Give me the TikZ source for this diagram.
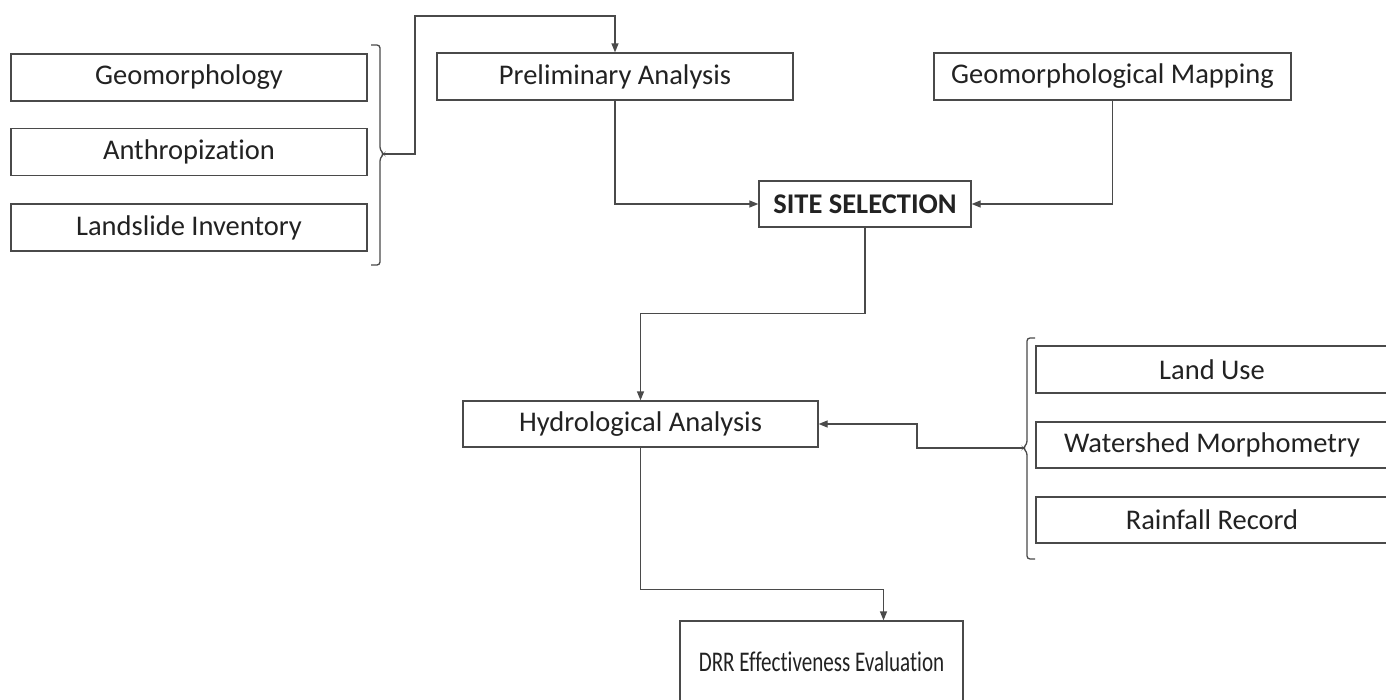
\documentclass[tikz,border=0pt]{standalone}
\usepackage{fontspec}
\setmainfont{Carlito}[Ligatures=CommonOff]
\usetikzlibrary{arrows.meta,calc}
\definecolor{linecol}{HTML}{4A4A4A}
\definecolor{txtcol}{HTML}{222222}
\begin{document}
\begin{tikzpicture}[x=1pt,y=-1pt,
  box/.style={draw=linecol,line width=1.3pt,fill=white,inner sep=0pt,
    minimum height=47pt,text=txtcol,font=\fontsize{28.5}{34}\selectfont},
  conn/.style={draw=linecol,line width=1.3pt},
  arr/.style={conn,-{Triangle[length=9pt,width=7pt]}},
  brace/.style={draw=linecol,line width=1.3pt,rounded corners=3pt}]
\clip (0,0) rectangle (1386,699);
\fill[white] (0,0) rectangle (1386,699);
% left group
\node[box,minimum width=356pt] (geo) at (189,77.5) {Geomorphology};
\node[box,minimum width=356pt] (anth) at (189,152) {Anthropization};
\node[box,minimum width=356pt] (land) at (189,227.5) {Landslide Inventory};
\draw[brace] (371,45) -- (380,45) -- (380,150) -- (384,154) -- (380,158) -- (380,265) -- (371,265);
\coordinate (ltip) at (384,154);
% top row
\node[box,minimum width=356pt] (prelim) at (615,76.5) {Preliminary Analysis};
\node[box,minimum width=357pt] (geomap) at (1112.5,76.5) {Geomorphological Mapping};
\node[box,minimum width=212pt,minimum height=46pt,font=\fontsize{28.5}{34}\selectfont\bfseries] (site) at (865,204) {SITE SELECTION};
% hydrology
\node[box,minimum width=355pt,minimum height=46pt] (hydro) at (640.5,424) {Hydrological Analysis};
\node[box,minimum width=352pt] (landuse) at (1212,369.5) {Land Use};
\node[box,minimum width=352pt,minimum height=46pt] (water) at (1212,445) {Watershed Morphometry};
\node[box,minimum width=352pt,minimum height=46pt] (rain) at (1212,520) {Rainfall Record};
\draw[brace] (1035,338) -- (1027,338) -- (1027,444) -- (1023,448) -- (1027,452) -- (1027,559) -- (1035,559);
\coordinate (rtip) at (1023,448);
% final
\node[box,minimum width=283pt,minimum height=82pt] (drr) at (821.5,662) {\scalebox{0.74}[1]{DRR Effectiveness Evaluation}};
% connectors
\draw[arr] (ltip) -| ($(ltip)+(31,-138)$) -| (prelim.north);
\draw[arr] (prelim.south) |- (site.west);
\draw[arr] (geomap.south) |- (site.east);
\draw[arr] (site.south) -- ++(0,86) -| (hydro.north);
\draw[arr] (rtip) -- ++(-106,0) |- (hydro.east);
\draw[arr] (hydro.south) -- ++(0,142) -| ([xshift=62pt]drr.north);
\end{tikzpicture}
\end{document}
